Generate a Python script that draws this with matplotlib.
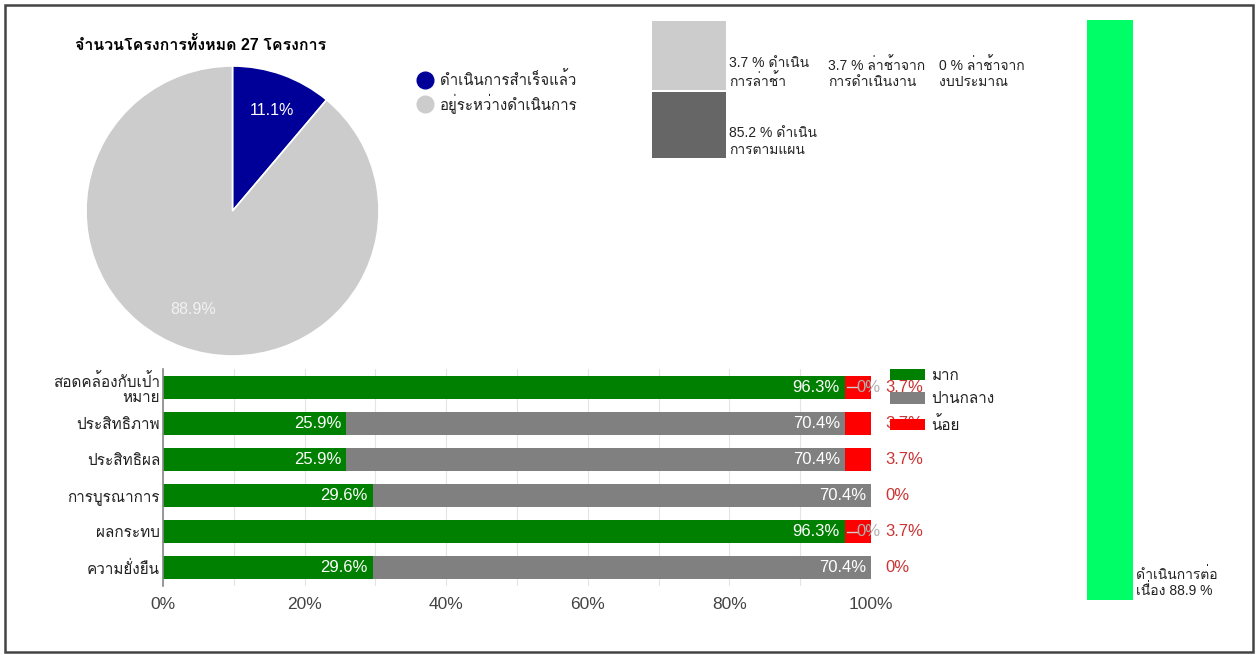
import matplotlib
matplotlib.use("Agg")
import matplotlib.pyplot as plt
from matplotlib import font_manager
from matplotlib.patches import Rectangle
from matplotlib.lines import Line2D
from fontTools.ttLib import TTFont

# look for an installed font that has Thai glyphs
thai_fonts = []
for f in font_manager.fontManager.ttflist:
    try:
        tt = TTFont(f.fname, fontNumber=0, lazy=True)
        if 0x0E01 in tt.getBestCmap():
            if f.name not in thai_fonts:
                thai_fonts.append(f.name)
    except Exception:
        pass

FAMILY = ['Liberation Sans'] + thai_fonts + ['DejaVu Sans']
plt.rcParams['font.family'] = FAMILY

# pie data
pie_labels = ['ดำเนินการสำเร็จแล้ว', 'อยู่ระหว่างดำเนินการ']
pie_values = [11.1, 88.9]
pie_colors = ['#000099', '#cccccc']

# status boxes (top)
status_labels = ['3.7 % ดำเนิน\nการล่าช้า', '3.7 % ล่าช้าจาก\nการดำเนินงาน',
                 '0 % ล่าช้าจาก\nงบประมาณ', '85.2 % ดำเนิน\nการตามแผน']
status_values = [3.7, 3.7, 0, 85.2]

# continuing bar
cont_label = 'ดำเนินการต่อ\nเนื่อง 88.9 %'
cont_value = 88.9

# stacked bars
categories = ['สอดคล้องกับเป้า\nหมาย', 'ประสิทธิภาพ', 'ประสิทธิผล',
              'การบูรณาการ', 'ผลกระทบ', 'ความยั่งยืน']
much = [96.3, 25.9, 25.9, 29.6, 96.3, 29.6]
medium = [0, 70.4, 70.4, 70.4, 0, 70.4]
little = [3.7, 3.7, 3.7, 0, 3.7, 0]
level_names = ['มาก', 'ปานกลาง', 'น้อย']

W, H = 1258, 655
fig = plt.figure(figsize=(W / 100, H / 100), dpi=100)


def box(x0, y0, x1, y1):
    # pixel box (top-left origin) -> figure fraction rect
    return [x0 / W, 1 - y1 / H, (x1 - x0) / W, (y1 - y0) / H]


# outer frame
fig.patches.append(Rectangle((4.5 / W, 3.5 / H), 1248 / W, 647 / H,
                             transform=fig.transFigure, fill=False,
                             edgecolor='#444444', linewidth=1.8))

# ---- pie ----
ax_pie = fig.add_axes(box(86, 66, 379, 356))
wedges, texts, autotexts = ax_pie.pie(
    pie_values, colors=pie_colors, startangle=90, counterclock=False,
    autopct='%1.1f%%', pctdistance=0.72,
    wedgeprops=dict(edgecolor='white', linewidth=1.2))
for t in autotexts:
    t.set_fontsize(11.5)
autotexts[0].set_color('white')
autotexts[1].set_color('#f2f2f2')
autotexts[0].set_position((0.27, 0.69))
autotexts[1].set_position((-0.27, -0.68))
ax_pie.set_aspect('auto')
ax_pie.set_xlim(-1.0, 1.0)
ax_pie.set_ylim(-1.0, 1.0)
fig.text(75 / W, 1 - 44 / H, 'จำนวนโครงการทั้งหมด 27 โครงการ', fontsize=11.5,
         fontweight='bold', color='#000000', va='center')
for i, (lab, c) in enumerate(zip(pie_labels, pie_colors)):
    y = 1 - (80 + 24 * i) / H
    fig.add_artist(Line2D([425 / W], [y], marker='o', markersize=12,
                          color=c, transform=fig.transFigure))
    fig.text(440 / W, y, lab, fontsize=10.8, color='#222222', va='center')

# ---- status boxes ----
ax_st = fig.add_axes(box(652, 21, 1060, 158))
ax_st.set_xlim(0, 5.5)
ax_st.set_ylim(0, 2)
ax_st.bar([0.5], [1], width=1, bottom=1, color='#cccccc', align='center')
ax_st.bar([0.5], [0.97], width=1, bottom=0, color='#666666', align='center')
text_x = [1.04, 2.37, 3.87, 1.04]
text_y = [1.01, 1.01, 1.01, 0.02]
for lab, x, y in zip(status_labels, text_x, text_y):
    ax_st.text(x, y, lab, fontsize=10, color='#222222', va='bottom',
               ha='left', linespacing=1.2)
ax_st.axis('off')

# ---- continuing bar ----
ax_c = fig.add_axes(box(1087, 20, 1133, 600))
ax_c.bar([0], [cont_value], width=1, color='#00ff66')
ax_c.set_xlim(-0.5, 0.5)
ax_c.set_ylim(0, cont_value)
ax_c.axis('off')
fig.text(1136 / W, 1 - 598 / H, cont_label, fontsize=10, color='#222222',
         va='bottom', ha='left', linespacing=1.1)

# ---- stacked horizontal bars ----
ax = fig.add_axes(box(163, 369, 871, 586))
y = list(range(len(categories)))
bh = 0.64
ax.barh(y, much, height=bh, color='#008000', label=level_names[0], zorder=2)
left2 = much
ax.barh(y, medium, left=left2, height=bh, color='#808080',
        label=level_names[1], zorder=2)
left3 = [a + b for a, b in zip(much, medium)]
ax.barh(y, little, left=left3, height=bh, color='#ff0000',
        label=level_names[2], zorder=2)
ax.set_xlim(0, 100)
ax.set_ylim(len(categories) - 0.5, -0.5)
ax.set_yticks(y)
ax.set_yticklabels(categories, fontsize=11, color='#222222', linespacing=1.1)
ax.set_xticks(range(0, 101, 20))
ax.set_xticklabels([f'{v}%' for v in range(0, 101, 20)], fontsize=12.5,
                   color='#444444')
ax.set_xticks(range(10, 100, 20), minor=True)
ax.tick_params(axis='both', which='both', length=0)
ax.tick_params(axis='x', pad=8)
ax.tick_params(axis='y', pad=2)
ax.grid(axis='x', which='both', color='#e4e4e4', linewidth=0.8, zorder=0)
for s in ['top', 'right', 'bottom']:
    ax.spines[s].set_visible(False)
ax.spines['left'].set_color('#888888')
ax.spines['left'].set_linewidth(1.2)

for i in y:
    if much[i] > 0:
        ax.text(much[i] - 0.7, i, f'{much[i]}%', ha='right', va='center',
                color='white', fontsize=12, zorder=3)
    if medium[i] > 0:
        ax.text(left3[i] - 0.7, i, f'{medium[i]}%', ha='right', va='center',
                color='white', fontsize=12, zorder=3)
    else:
        # zero-width segment: label pulled out with a short leader line
        ax.plot([96.6, 98.0], [i, i], color='#d0d0d0', linewidth=1, zorder=3)
        ax.text(97.9, i, '0%', ha='left', va='center', color='#b0b0b0',
                fontsize=12, zorder=3, clip_on=False)
    ax.text(102, i, '0%' if little[i] == 0 else f'{little[i]}%', ha='left',
            va='center', color='#cc3333', fontsize=12, zorder=3,
            clip_on=False)

leg = ax.legend(loc='upper left', bbox_to_anchor=(1.018, 1.03), frameon=False,
                fontsize=11, handlelength=2.3, handleheight=0.8,
                handletextpad=0.4, labelspacing=0.62, borderaxespad=0)
for t in leg.get_texts():
    t.set_color('#222222')

fig.savefig('out.png', dpi=100, facecolor='white')
